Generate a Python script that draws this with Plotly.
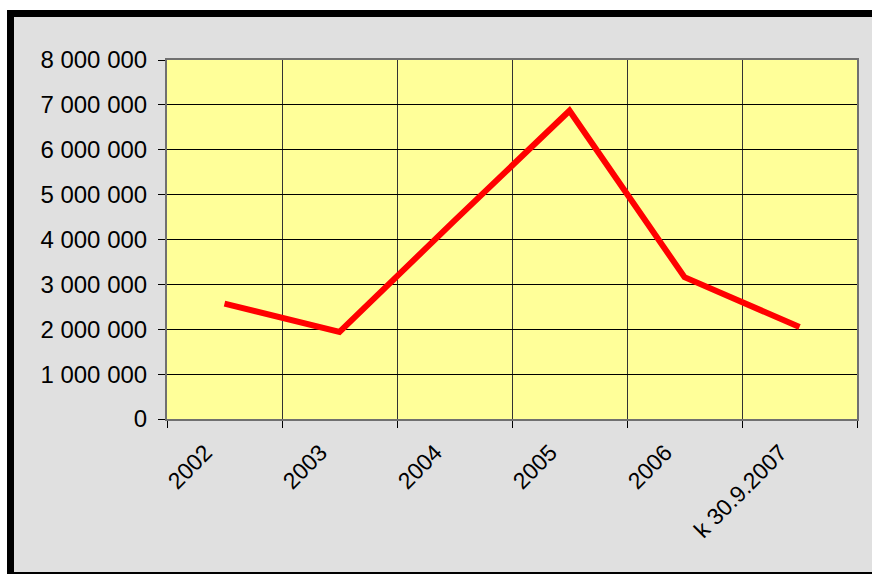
import plotly.graph_objects as go

categories = ["2002", "2003", "2004", "2005", "2006", "k 30.9.2007"]
values = [2570000, 1940000, 4420000, 6870000, 3160000, 2050000]
y_ticks = [0, 1000000, 2000000, 3000000, 4000000, 5000000, 6000000, 7000000, 8000000]

W, H = 872, 574
L, R, T, B = 167, 857, 60, 419  # plot area in pixels


def px2x(px):
    return (px - L) / (R - L)


def px2y(py):
    return (B - py) / (B - T)


fig = go.Figure()
fig.add_trace(go.Scatter(
    x=categories, y=values, mode="lines",
    line=dict(color="#FF0000", width=6),
    hoverinfo="x+y",
))

shapes = [
    # white strips outside the frame
    dict(type="rect", xref="paper", yref="paper", layer="below",
         x0=px2x(-20), x1=px2x(900), y0=px2y(10), y1=px2y(-20),
         fillcolor="white", line=dict(width=0)),
    dict(type="rect", xref="paper", yref="paper", layer="below",
         x0=px2x(-20), x1=px2x(7), y0=px2y(600), y1=px2y(-20),
         fillcolor="white", line=dict(width=0)),
    # black frame
    dict(type="rect", xref="paper", yref="paper", layer="below",
         x0=px2x(10.5), x1=px2x(880), y0=px2y(575.5), y1=px2y(13.5),
         fillcolor="rgba(0,0,0,0)", line=dict(color="black", width=7)),
]

fig.update_layout(
    width=W, height=H,
    margin=dict(l=L, r=W - R, t=T, b=H - B, pad=0),
    paper_bgcolor="#E0E0E0",
    plot_bgcolor="#FFFF99",
    showlegend=False,
    separators=", ",
    font=dict(family="Liberation Sans, Arial, sans-serif", size=22, color="black"),
    shapes=shapes,
    xaxis=dict(
        type="category",
        range=[-0.5, 5.5],
        tickson="boundaries",
        ticks="outside", ticklen=7, tickcolor="black", tickwidth=1,
        showgrid=True, gridcolor="#333333", gridwidth=1,
        showline=True, linecolor="#707070", linewidth=2, mirror=True,
        tickangle=-45,
        tickfont=dict(size=23),
        ticklabelshift=-19,
        ticklabelstandoff=9,
        zeroline=False,
    ),
    yaxis=dict(
        range=[0, 8000000],
        tickvals=y_ticks,
        tickformat=",d",
        ticks="outside", ticklen=7, tickcolor="black", tickwidth=1,
        showgrid=True, gridcolor="black", gridwidth=1,
        showline=True, linecolor="#707070", linewidth=2, mirror=True,
        zeroline=False,
        tickfont=dict(size=24),
        ticklabelstandoff=6,
    ),
)

fig.write_html(
    "out.html",
    config={"displayModeBar": False},
    post_script="document.body.style.margin='0';document.body.style.overflow='hidden';",
)
